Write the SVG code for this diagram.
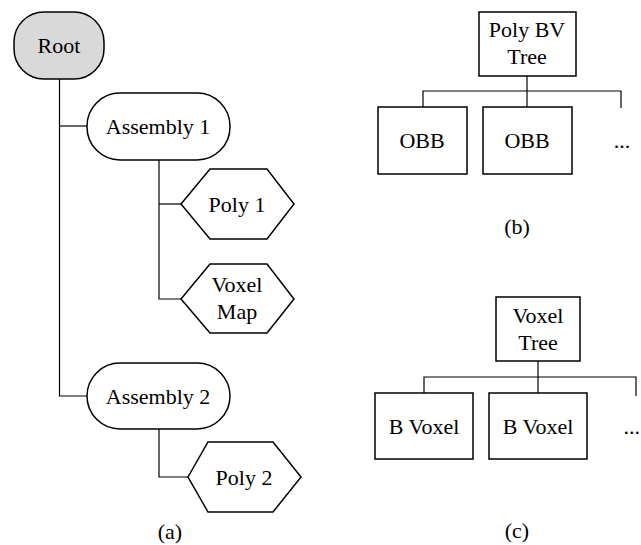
<svg xmlns="http://www.w3.org/2000/svg" width="641" height="545" viewBox="0 0 641 545">
<style>
.s{fill:#fff;stroke:#000;stroke-width:1.5}
.g{fill:#d9d9d9;stroke:#000;stroke-width:1.5}
.c{fill:none;stroke:#000;stroke-width:1.2}
text{font-family:"Liberation Serif","Times New Roman",serif;font-size:22px;fill:#000;text-anchor:middle}
</style>
<rect width="641" height="545" fill="#fff"/>
<g id="connectors">
<polyline class="c" points="59.5,79 59.5,396 87,396"/>
<line class="c" x1="59.5" y1="126" x2="87" y2="126"/>
<polyline class="c" points="159,160 159,299 181,299"/>
<line class="c" x1="159" y1="204" x2="181" y2="204"/>
<polyline class="c" points="159,429 159,477 188,477"/>
<line class="c" x1="527" y1="76" x2="527" y2="107"/>
<polyline class="c" points="423,107 423,91 621,91 621,108"/>
<line class="c" x1="538" y1="361" x2="538" y2="393"/>
<polyline class="c" points="424,393 424,377 636,377 636,396"/>
</g>
<g id="root"><rect class="g" x="14" y="12" width="90" height="67" rx="30" ry="30"/><text x="59" y="53">Root</text></g>
<g id="assembly1"><rect class="s" x="87" y="93" width="143" height="67" rx="33" ry="33"/><text x="158" y="134">Assembly 1</text></g>
<g id="poly1"><polygon class="s" points="181,204 210,169 267,169 294,204 267,239 210,239"/><text x="237" y="212">Poly 1</text></g>
<g id="voxelmap"><polygon class="s" points="181,299 210,264 267,264 294,299 267,333 210,333"/><text x="237" y="292">Voxel</text><text x="237" y="319">Map</text></g>
<g id="assembly2"><rect class="s" x="87" y="363" width="143" height="66" rx="33" ry="33"/><text x="158" y="404">Assembly 2</text></g>
<g id="poly2"><polygon class="s" points="188,477 208,442 273,442 301,477 273,512 208,512"/><text x="244" y="485">Poly 2</text></g>
<text x="170" y="539">(a)</text>
<g id="polybvtree"><rect class="s" x="479" y="12" width="97" height="64"/><text x="527" y="37">Poly BV</text><text x="527" y="64">Tree</text></g>
<g id="obb1"><rect class="s" x="378" y="107" width="89" height="67"/><text x="422" y="148">OBB</text></g>
<g id="obb2"><rect class="s" x="483" y="107" width="89" height="67"/><text x="527" y="148">OBB</text></g>
<text x="622" y="148">...</text>
<text x="517" y="234">(b)</text>
<g id="voxeltree"><rect class="s" x="496" y="297" width="84" height="64"/><text x="538" y="323">Voxel</text><text x="538" y="350">Tree</text></g>
<g id="bvoxel1"><rect class="s" x="375" y="393" width="98" height="66"/><text x="424" y="434">B Voxel</text></g>
<g id="bvoxel2"><rect class="s" x="489" y="393" width="98" height="66"/><text x="538" y="434">B Voxel</text></g>
<text x="640" y="434" style="text-anchor:end">...</text>
<text x="517" y="538">(c)</text>
</svg>
